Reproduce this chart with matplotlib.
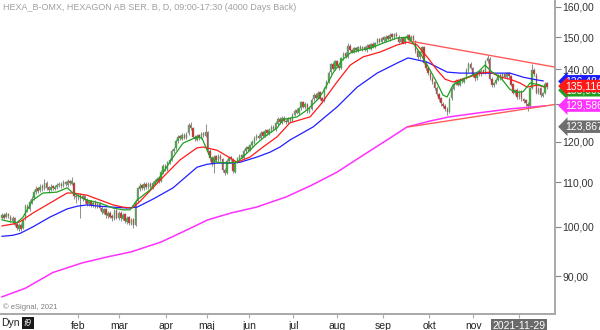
import matplotlib
matplotlib.use("Agg")
import matplotlib.pyplot as plt
from matplotlib.ticker import FixedLocator, FuncFormatter, NullLocator

plt.rcParams['font.family'] = ['Liberation Sans', 'DejaVu Sans']

# daily candles (index = trading day from early Dec 2020)
opens = [
    102.0, 102.6, 102.1, 102.7, 102.2, 101.3, 101.8, 100.6, 99.6, 100.4,
    99.8, 101.8, 104.4, 103.9, 105.4, 106.3, 107.7, 108.6, 108.1, 109.1,
    108.5, 109.9, 108.8, 108.2, 109.1, 108.5, 108.8, 109.4, 109.7, 109.1,
    110.1, 109.4, 110.3, 109.7, 109.8, 106.9, 106.4, 107.1, 106.1, 106.9,
    105.9, 104.9, 105.7, 104.7, 105.4, 104.5, 105.1, 104.1, 103.1, 103.9,
    102.4, 103.1, 102.3, 101.7, 103.6, 101.9, 103.1, 101.7, 102.7, 101.1,
    102.1, 100.7, 101.6, 100.5, 105.7, 108.5, 109.3, 108.6, 109.6, 108.8,
    109.7, 108.9, 109.9, 110.2, 110.9, 110.3, 112.4, 113.9, 112.9, 114.7,
    115.5, 117.5, 118.3, 120.1, 121.4, 120.7, 121.8, 120.9, 122.1, 124.3,
    123.4, 121.3, 120.5, 121.6, 120.8, 122.1, 121.5, 122.4, 117.6, 115.9,
    114.4, 116.3, 115.3, 116.4, 115.5, 112.9, 112.2, 115.1, 116.0, 115.4,
    112.5, 114.9, 115.7, 116.5, 115.9, 117.5, 118.5, 117.9, 119.1, 119.7,
    120.8, 121.5, 120.9, 122.4, 121.4, 122.9, 122.1, 122.9, 123.9, 123.2,
    124.7, 126.0, 124.9, 126.3, 125.4, 125.1, 126.1, 125.5, 127.1, 128.3,
    127.5, 128.9, 130.6, 129.1, 130.1, 127.9, 128.7, 131.3, 132.6, 131.7,
    133.3, 131.6, 130.8, 134.6, 136.3, 139.1, 141.6, 140.1, 142.5, 140.9,
    140.4, 143.4, 144.9, 143.9, 147.3, 145.9, 145.3, 146.6, 145.7, 147.0,
    146.1, 146.9, 145.8, 147.4, 146.4, 147.9, 146.9, 148.1, 149.4, 148.5,
    149.9, 148.9, 150.3, 149.3, 150.9, 149.8, 151.1, 150.2, 148.5, 149.6,
    148.1, 149.7, 150.6, 149.1, 150.3, 148.8, 145.6, 143.7, 145.1, 146.9,
    142.1, 140.4, 138.9, 137.6, 136.3, 134.6, 132.7, 131.6, 130.1, 129.6,
    128.7, 127.9, 131.6, 134.4, 135.7, 136.7, 135.4, 137.1, 136.4, 137.5,
    139.7, 141.7, 140.4, 138.3, 137.4, 139.3, 138.5, 139.7, 138.9, 142.4,
    143.3, 137.3, 135.3, 136.1, 136.9, 138.4, 137.4, 138.6, 137.7, 138.9,
    138.1, 135.6, 133.1, 134.1, 131.9, 133.6, 131.4, 131.1, 130.1, 129.5,
    134.6, 139.9, 138.4, 133.1, 134.5, 132.4, 133.1, 135.9,
]
highs = [
    103.0, 102.9, 103.2, 103.1, 102.5, 102.4, 102.1, 101.0, 100.8, 100.8,
    101.9, 105.0, 104.9, 105.9, 106.8, 108.3, 109.1, 108.9, 109.6, 109.5,
    110.8, 110.3, 109.2, 109.5, 109.4, 109.3, 109.8, 110.1, 110.0, 110.5,
    110.4, 110.7, 110.6, 111.2, 110.0, 107.5, 107.6, 107.4, 107.2, 107.1,
    106.3, 106.0, 106.0, 105.7, 105.8, 105.4, 105.4, 104.5, 104.2, 104.2,
    103.5, 103.5, 102.7, 103.9, 103.9, 103.5, 103.4, 103.0, 103.1, 102.4,
    102.4, 101.9, 101.8, 105.9, 109.0, 109.8, 109.7, 110.0, 110.0, 110.1,
    110.1, 110.2, 110.7, 111.3, 111.4, 112.9, 114.3, 114.4, 115.2, 115.9,
    118.0, 118.7, 120.6, 121.8, 121.8, 122.1, 122.2, 122.4, 124.9, 125.2,
    123.8, 121.7, 121.9, 121.9, 122.4, 122.5, 124.5, 122.8, 118.0, 116.3,
    116.6, 116.7, 116.8, 116.8, 115.8, 113.4, 115.6, 116.4, 116.4, 115.8,
    115.2, 116.2, 116.9, 116.9, 118.0, 118.9, 118.9, 119.4, 120.3, 121.4,
    121.9, 121.9, 122.7, 122.8, 123.2, 123.3, 123.4, 124.3, 124.3, 125.3,
    126.4, 126.4, 126.7, 126.8, 125.9, 126.5, 126.5, 127.5, 128.7, 128.8,
    129.2, 131.0, 131.0, 130.5, 130.4, 129.1, 131.6, 133.0, 133.0, 133.7,
    133.7, 132.0, 134.9, 136.9, 139.4, 142.0, 142.3, 142.8, 142.9, 141.4,
    143.9, 145.3, 145.4, 148.2, 147.8, 146.3, 146.9, 147.0, 147.3, 147.5,
    147.2, 147.3, 147.7, 147.8, 148.2, 148.3, 148.6, 149.7, 149.8, 150.2,
    150.3, 150.6, 150.7, 151.2, 151.3, 151.5, 151.6, 150.6, 149.9, 150.0,
    150.0, 150.9, 151.0, 150.6, 150.7, 149.2, 146.0, 145.6, 147.3, 147.2,
    142.5, 140.8, 139.3, 138.0, 136.7, 135.0, 133.1, 132.0, 130.6, 130.0,
    129.1, 131.9, 134.9, 136.2, 137.1, 137.1, 137.5, 137.5, 137.8, 140.3,
    142.1, 142.2, 140.8, 138.7, 139.6, 139.7, 140.0, 140.1, 142.9, 144.3,
    143.7, 137.8, 136.4, 137.4, 138.7, 138.8, 138.9, 139.0, 139.2, 139.3,
    138.4, 136.0, 134.4, 134.5, 133.9, 134.0, 131.8, 131.5, 130.5, 134.9,
    141.5, 140.5, 138.8, 134.8, 134.9, 133.5, 136.3, 136.3,
]
lows = [
    101.6, 101.6, 101.8, 101.9, 101.1, 101.0, 100.1, 99.3, 99.2, 99.1,
    99.5, 101.4, 103.2, 103.5, 105.0, 105.9, 107.3, 107.5, 107.7, 108.0,
    108.2, 108.3, 107.6, 107.9, 108.1, 108.1, 108.4, 109.0, 108.7, 108.8,
    109.1, 109.0, 109.4, 109.3, 106.2, 105.2, 106.0, 101.8, 105.6, 105.3,
    104.6, 104.5, 104.3, 104.4, 104.2, 104.1, 103.6, 102.8, 102.7, 102.0,
    102.0, 101.8, 101.2, 101.4, 101.6, 101.5, 101.3, 101.4, 100.8, 100.7,
    100.3, 100.3, 99.8, 100.2, 105.3, 108.0, 108.3, 108.2, 108.5, 108.4,
    108.6, 108.5, 109.5, 109.9, 109.8, 110.0, 112.0, 112.6, 112.6, 114.3,
    115.2, 117.1, 117.9, 119.7, 120.3, 120.4, 120.6, 120.6, 121.7, 123.0,
    120.8, 120.1, 120.2, 120.5, 120.6, 121.2, 121.2, 116.8, 115.2, 113.9,
    112.3, 115.0, 114.9, 115.2, 112.4, 111.8, 112.0, 114.7, 115.0, 112.1,
    112.2, 114.5, 115.4, 115.6, 115.6, 117.2, 117.6, 117.6, 118.7, 119.4,
    120.5, 120.6, 120.6, 121.1, 121.1, 121.8, 121.8, 122.6, 122.9, 122.8,
    124.3, 124.5, 124.5, 125.1, 124.6, 124.7, 125.2, 125.1, 126.6, 127.2,
    127.1, 128.5, 128.8, 128.7, 127.5, 127.5, 128.3, 130.8, 131.4, 131.3,
    131.1, 130.4, 130.5, 134.2, 135.9, 138.7, 139.8, 139.7, 140.6, 139.8,
    140.0, 143.0, 143.5, 143.6, 145.6, 144.9, 144.9, 145.4, 145.3, 145.8,
    145.7, 145.5, 145.4, 146.1, 146.0, 146.6, 146.5, 147.7, 148.2, 148.1,
    148.6, 148.5, 149.0, 148.9, 149.5, 149.4, 149.9, 148.2, 148.1, 147.8,
    147.7, 149.3, 148.8, 148.8, 148.6, 145.1, 143.2, 143.3, 144.8, 141.6,
    139.8, 138.4, 137.0, 135.8, 134.0, 132.2, 131.0, 129.6, 128.9, 128.0,
    127.0, 127.6, 131.2, 134.0, 135.3, 135.0, 135.0, 136.0, 136.0, 137.1,
    139.3, 140.1, 137.8, 136.6, 137.0, 138.1, 138.1, 138.6, 138.5, 142.0,
    136.8, 134.7, 134.9, 135.7, 136.5, 137.0, 137.0, 137.4, 137.3, 137.6,
    135.1, 132.7, 132.6, 131.5, 131.5, 130.8, 130.4, 129.4, 128.2, 129.1,
    134.2, 138.0, 132.8, 132.7, 132.0, 132.0, 132.8, 134.3,
]
closes = [
    102.5, 102.0, 102.8, 102.3, 101.5, 102.0, 100.5, 99.8, 100.3, 99.6,
    101.5, 104.5, 103.8, 105.5, 106.2, 107.8, 108.5, 108.0, 109.0, 108.6,
    109.8, 108.7, 108.3, 109.0, 108.6, 108.9, 109.3, 109.6, 109.2, 110.0,
    109.5, 110.2, 109.8, 110.4, 106.8, 106.5, 107.0, 106.2, 106.8, 105.8,
    105.0, 105.6, 104.8, 105.3, 104.6, 105.0, 104.0, 103.2, 103.8, 102.5,
    103.0, 102.2, 101.8, 103.5, 102.0, 103.0, 101.8, 102.6, 101.2, 102.0,
    100.8, 101.5, 100.4, 105.5, 108.6, 109.2, 108.7, 109.5, 108.9, 109.6,
    109.0, 109.8, 110.3, 110.8, 110.2, 112.5, 113.8, 113.0, 114.8, 115.4,
    117.6, 118.2, 120.2, 121.3, 120.8, 121.7, 121.0, 122.0, 124.2, 123.5,
    121.2, 120.6, 121.5, 120.9, 122.0, 121.6, 122.5, 117.5, 115.8, 114.5,
    116.2, 115.4, 116.3, 115.6, 112.8, 112.3, 115.2, 115.9, 115.5, 112.6,
    114.8, 115.8, 116.4, 116.0, 117.6, 118.4, 118.0, 119.0, 119.8, 120.9,
    121.4, 121.0, 122.3, 121.5, 122.8, 122.2, 123.0, 123.8, 123.3, 124.8,
    125.9, 125.0, 126.2, 125.5, 125.2, 126.0, 125.6, 127.0, 128.2, 127.6,
    128.8, 130.5, 129.2, 130.0, 128.0, 128.6, 131.2, 132.5, 131.8, 133.2,
    131.5, 130.9, 134.5, 136.4, 139.0, 141.5, 140.2, 142.4, 141.0, 140.3,
    143.5, 144.8, 144.0, 147.2, 146.0, 145.4, 146.5, 145.8, 146.9, 146.2,
    146.8, 145.9, 147.3, 146.5, 147.8, 147.0, 148.2, 149.3, 148.6, 149.8,
    149.0, 150.2, 149.4, 150.8, 149.9, 151.0, 150.3, 148.6, 149.5, 148.2,
    149.6, 150.5, 149.2, 150.2, 149.0, 145.5, 143.8, 145.2, 146.8, 142.0,
    140.3, 139.0, 137.5, 136.4, 134.5, 132.8, 131.5, 130.2, 129.5, 128.6,
    127.8, 131.5, 134.5, 135.8, 136.6, 135.5, 137.0, 136.5, 137.4, 139.8,
    141.6, 140.5, 138.2, 137.5, 139.2, 138.6, 139.6, 139.0, 142.5, 143.4,
    137.2, 135.4, 136.0, 137.0, 138.3, 137.5, 138.5, 137.8, 138.8, 138.0,
    135.5, 133.2, 134.0, 132.0, 133.5, 131.3, 131.0, 130.2, 129.6, 134.5,
    139.8, 138.5, 133.2, 134.4, 132.5, 133.0, 135.8, 134.8,
]

# moving averages (day index, price)
ma_fast_x = [0, 3.8, 7.1, 9.9, 14.6, 19.3, 25.9, 30.7, 33.5, 40.1, 46.2, 52.4, 57.1,
             60.4, 63.7, 69.8, 75.9, 80.7, 85.4, 92, 94.3, 98.1, 101.4, 106.1, 110.8,
             115.6, 120.3, 125, 129.7, 132.5, 139.2, 143.9, 148.6, 151.4, 156.1, 160.4,
             164.2, 168.9, 173.6, 179.7, 186.3, 191, 193.9, 197.2, 201.9, 205.2, 208,
             209.9, 212.7, 217.5, 224, 227.8, 231.1, 234.9, 239.6, 243, 245.8, 249.1,
             253.8, 256.1]
ma_fast = [101.5, 101.1, 100.9, 102.1, 105.9, 107.5, 107.7, 108.7, 107.5, 105.9, 105.2,
           104.1, 103.7, 103.7, 105.9, 108.2, 112.2, 116.1, 119.6, 121.2, 120.9, 116.1,
           114.8, 114.6, 114.8, 117.1, 119.6, 121.7, 123.5, 125.8, 126.5, 128.4, 131.1,
           133.4, 138.9, 142.8, 145.0, 145.9, 146.5, 148.1, 149.7, 150.0, 148.1, 145.0,
           139.8, 136.0, 132.5, 132.0, 135.4, 137.1, 138.9, 141.3, 139.2, 137.8, 134.1,
           133.3, 133.5, 136.0, 135.4, 134.8]

ma_mid_x = [0, 5.2, 8.5, 14.6, 22.6, 30.7, 33.5, 40.1, 46.2, 52.4, 57.1, 61.3, 65.1,
            75.9, 84, 92, 94.8, 101.4, 107.5, 110.8, 117, 123.1, 129.7, 135.8, 145.3,
            150, 158, 164.2, 170.3, 178.3, 186.3, 191, 195.8, 200.5, 205.2, 209, 212.7,
            219.3, 225.5, 230.2, 234.9, 239.6, 244.3, 247.6, 252.4, 256.1]
ma_mid = [100.2, 100.6, 101.1, 103.0, 105.2, 107.5, 107.5, 107.0, 105.9, 104.8, 104.3,
          104.1, 105.6, 111.2, 115.4, 118.4, 118.6, 117.8, 115.9, 114.8, 116.1, 118.6,
          121.2, 124.9, 126.5, 129.7, 136.3, 141.3, 143.8, 145.3, 147.5, 148.4, 147.5,
          143.8, 139.8, 137.1, 136.3, 137.5, 138.9, 139.2, 137.8, 137.1, 136.0, 134.8,
          135.4, 134.8]

ma_slow_x = [0, 5, 8.5, 14.6, 22.6, 30.7, 35.4, 40, 46.2, 52.4, 59, 63.7, 71.2, 80.7,
             92, 96.7, 101.4, 107.5, 112.3, 120.3, 126.4, 131.1, 135.8, 146.7, 158,
             167.5, 176.9, 186.3, 191.5, 200.5, 205.2, 209.9, 216, 224, 231.6, 239.6,
             245.8, 250.5, 255.2]
ma_slow = [98.0, 98.2, 98.6, 100.0, 102.1, 103.9, 104.5, 104.8, 104.5, 104.3, 104.1,
           104.3, 106.1, 108.7, 113.6, 114.3, 114.6, 114.6, 114.8, 116.1, 117.3, 118.6,
           120.4, 123.8, 129.2, 134.8, 138.9, 141.9, 143.5, 142.2, 140.7, 139.2, 138.9,
           138.9, 138.9, 138.9, 137.7, 137.1, 136.6]

ma_long_x = [0, 11, 24, 38, 50, 61, 75, 87, 97, 108, 120, 134, 146, 158, 169, 183, 191,
             202, 211, 225, 240, 256]
ma_long = [86.1, 87.7, 90.7, 92.6, 93.8, 94.8, 96.8, 99.3, 101.5, 103.0, 104.3, 106.6,
           109.3, 112.4, 116.1, 120.9, 123.8, 125.4, 126.5, 127.6, 128.7, 129.5]

# trend lines
resist_x = [192, 260.8]
resist = [148.8, 140.7]
support_x = [191.5, 260.8]
support = [123.8, 129.9]

month_pos = [36, 55.2, 77.4, 96.7, 116.5, 137.3, 158, 179.7, 201.4, 222.2, 243.9]
month_labels = ['feb', 'mar', 'apr', 'maj', 'jun', 'jul', 'aug', 'sep', 'okt', 'nov', '2021-11-29']
price_ticks = [90, 100, 110, 120, 130, 140, 150, 160]

tag_values = [133.9, 136.48431, 135.11695, 129.58610, 123.86753]
tag_colors = ['#20a020', '#1a1aff', '#ff1a1a', '#ff33ff', '#6e6e6e']

fig = plt.figure(figsize=(6, 3.3), dpi=100)
ax = fig.add_axes([0.0, 16 / 330, 555 / 600, 1 - 16 / 330])

idx = list(range(len(closes)))
ax.vlines(idx, lows, highs, color='#8c8c8c', lw=0.7, zorder=1)
body_lo = [min(o, c) for o, c in zip(opens, closes)]
body_h = [max(abs(c - o), 0.15) for o, c in zip(opens, closes)]
cols = ['#2cb42c' if c >= o else '#d42222' for o, c in zip(opens, closes)]
ax.bar(idx, body_h, bottom=body_lo, width=0.72, color=cols, edgecolor='#8c8c8c',
       linewidth=0.3, zorder=2)

ax.plot(ma_long_x, ma_long, color='#ff30ff', lw=1.1, zorder=3)
ax.plot(support_x, support, color='#ff5a5a', lw=1.0, zorder=3)
ax.plot(resist_x, resist, color='#ff5a5a', lw=1.0, zorder=3)
ax.plot(ma_slow_x, ma_slow, color='#2020ff', lw=0.9, zorder=4)
ax.plot(ma_mid_x, ma_mid, color='#ff1a1a', lw=0.9, zorder=4)
ax.plot(ma_fast_x, ma_fast, color='#1fa01f', lw=0.9, zorder=4)

ax.set_yscale('log')
ax.set_ylim(83.0, 162.4)
ax.set_xlim(-0.94, 260.8)
ax.yaxis.tick_right()
ax.yaxis.set_major_locator(FixedLocator(price_ticks))
ax.yaxis.set_minor_locator(NullLocator())
ax.yaxis.set_major_formatter(FuncFormatter(lambda v, p: f'{v:.2f}'.replace('.', ',')))
ax.tick_params(axis='y', which='major', length=4, width=0.8, color='#888888',
               labelsize=7.5, labelcolor='#333333', pad=1.5)

ax.set_xticks(month_pos)
ax.set_xticklabels(month_labels)
ax.tick_params(axis='x', length=3, width=0.8, color='#aaaaaa', labelsize=7.5,
               labelcolor='#222222', pad=2)
lbl = ax.get_xticklabels()[-1]
lbl.set_color('white')
lbl.set_bbox(dict(facecolor='#6a6a6a', edgecolor='none', pad=1.2))

for s in ['top', 'left']:
    ax.spines[s].set_visible(False)
for s in ['right', 'bottom']:
    ax.spines[s].set_color('#a8a8a8')
    ax.spines[s].set_linewidth(1.4)

# price tags on the right, overlapping like in the original
for v, c in zip(tag_values, tag_colors):
    ax.annotate(f'{v:.5f}'.replace('.', ','), xy=(1.0, v), xycoords=('axes fraction', 'data'),
                xytext=(7, 0), textcoords='offset points', va='center', ha='left',
                fontsize=7.5, color='white', annotation_clip=False,
                bbox=dict(boxstyle='larrow,pad=0.12', facecolor=c, edgecolor='none'))

fig.text(3 / 600, 1 - 7 / 330, 'HEXA_B-OMX, HEXAGON AB SER. B, D, 09:00-17:30 (4000 Days Back)',
         fontsize=6.5, color='#a0a0a0', va='center', ha='left')
fig.text(3 / 600, 1 - 307 / 330, '© eSignal, 2021', fontsize=5.5, color='#808080',
         va='center', ha='left')
fig.text(1 / 600, 1 - 323 / 330, 'Dyn', fontsize=7.5, color='#222222', va='center', ha='left')
fig.text(28 / 600, 1 - 323 / 330, 'fθ', fontsize=6, color='#dddddd', va='center', ha='center',
         style='italic', family=['DejaVu Sans'],
         bbox=dict(facecolor='#1a1a1a', edgecolor='none', pad=1.3))

fig.savefig('out.png', dpi=100)
